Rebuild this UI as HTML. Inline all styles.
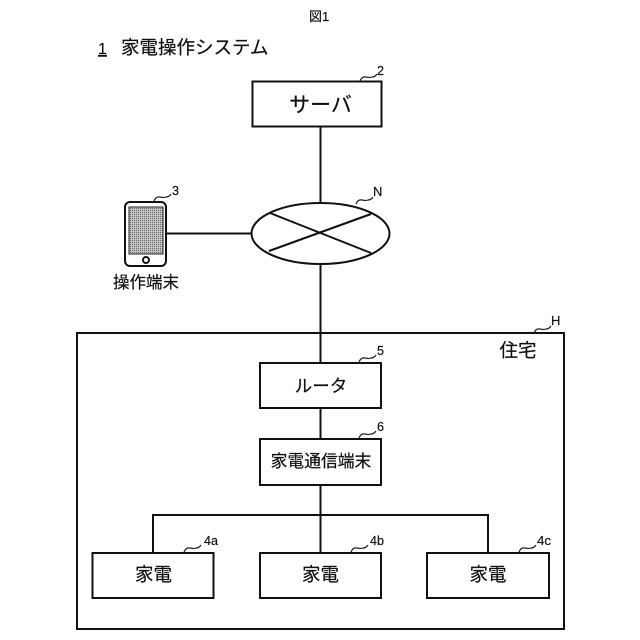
<!DOCTYPE html>
<html>
<head>
<meta charset="utf-8">
<style>
html,body{margin:0;padding:0;background:#fff;width:640px;height:640px;overflow:hidden}
svg{display:block}
text{font-family:"Liberation Sans","Noto Sans CJK JP",sans-serif;fill:#111;stroke:#111;stroke-width:0.2px}
.l{font-size:13px}
.m{font-size:18.500px;text-anchor:middle}
</style>
</head>
<body>
<svg width="640" height="640" viewBox="0 0 640 640" xmlns="http://www.w3.org/2000/svg">
<defs>
<pattern id="dots" width="2" height="2" patternUnits="userSpaceOnUse">
<rect width="2" height="2" fill="#c4c4c4"/>
<rect width="1" height="1" fill="#666"/>
</pattern>
</defs>
<g fill="none" stroke="#111" stroke-width="2">
<rect x="252.500" y="81.500" width="129" height="45"/>
<line x1="320.500" y1="127" x2="320.500" y2="203"/>
<ellipse cx="320.500" cy="233.500" rx="69" ry="30.500"/>
<line x1="270" y1="213" x2="371" y2="253"/>
<line x1="269" y1="251" x2="371" y2="214"/>
<line x1="167" y1="233.500" x2="252" y2="233.500"/>
<line x1="320.500" y1="264" x2="320.500" y2="363"/>
<rect x="77" y="333" width="487" height="296"/>
<rect x="260" y="363" width="121" height="45"/>
<line x1="320.500" y1="408" x2="320.500" y2="439"/>
<rect x="260" y="439" width="121" height="46"/>
<line x1="320.500" y1="485" x2="320.500" y2="553"/>
<polyline points="153,553 153,515 488,515 488,553"/>
<rect x="92.500" y="553" width="121" height="45"/>
<rect x="260" y="553" width="121" height="45"/>
<rect x="427" y="553" width="122" height="45"/>
<rect x="125" y="202" width="41" height="64" rx="5"/>
<circle cx="146" cy="260" r="3"/>
</g>
<rect x="129" y="207" width="34" height="47" fill="url(#dots)" stroke="#222" stroke-width="1"/>
<g fill="none" stroke="#222" stroke-width="1.200">
<path d="M360,81 q2,-5 6,-4 t6,0 q3,0 5,-3"/>
<path d="M154,201 q2,-5 6,-4 t6,0 q3,0 5,-3"/>
<path d="M356,204 q2,-5 6,-4 t6,0 q3,0 5,-3"/>
<path d="M534,333 q2,-5 6,-4 t6,0 q3,0 5,-3"/>
<path d="M359,362 q2,-5 6,-4 t6,0 q3,0 5,-3"/>
<path d="M359,438 q2,-5 6,-4 t6,0 q3,0 5,-3"/>
<path d="M184,552 q2,-5 6,-4 t6,0 q3,0 5,-3"/>
<path d="M351,552 q2,-5 6,-4 t6,0 q3,0 5,-3"/>
<path d="M519,552 q2,-5 6,-4 t6,0 q3,0 5,-3"/>
</g>
<text x="309" y="21" style="font-size:13px">図1</text>
<text x="98" y="54" style="font-size:16px;text-decoration:underline">1</text>
<text x="121" y="54" style="font-size:18.500px">家電操作システム</text>
<text x="377" y="75" class="l" textLength="7" lengthAdjust="spacingAndGlyphs">2</text>
<text x="172" y="195" class="l" textLength="7" lengthAdjust="spacingAndGlyphs">3</text>
<text x="373" y="196" class="l">N</text>
<text x="551" y="325" class="l">H</text>
<text x="377" y="355" class="l" textLength="7" lengthAdjust="spacingAndGlyphs">5</text>
<text x="377" y="431" class="l" textLength="7" lengthAdjust="spacingAndGlyphs">6</text>
<text x="204" y="545" class="l" textLength="14" lengthAdjust="spacingAndGlyphs">4a</text>
<text x="370" y="545" class="l" textLength="14" lengthAdjust="spacingAndGlyphs">4b</text>
<text x="537" y="545" class="l" textLength="14" lengthAdjust="spacingAndGlyphs">4c</text>
<text x="146" y="288" style="font-size:16.500px;text-anchor:middle">操作端末</text>
<text x="320.500" y="112" class="m" style="font-size:21px">サーバ</text>
<text x="321" y="392" class="m" style="font-size:17.500px">ルータ</text>
<text x="321" y="467" class="m" style="font-size:16.800px">家電通信端末</text>
<text x="518" y="357" class="m">住宅</text>
<text x="153.500" y="581" class="m">家電</text>
<text x="320.500" y="581" class="m">家電</text>
<text x="488" y="581" class="m">家電</text>
</svg>
</body>
</html>
